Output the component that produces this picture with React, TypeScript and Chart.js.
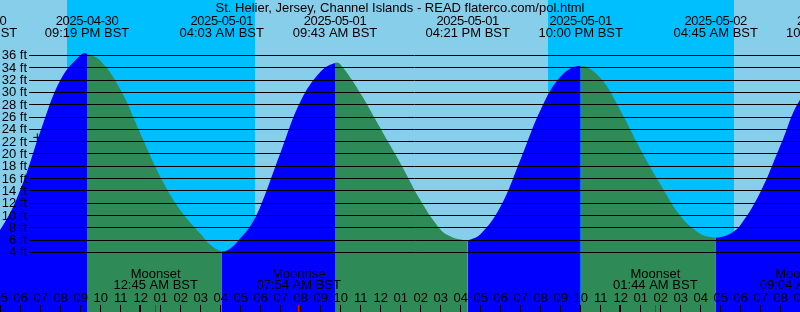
import { useEffect, useRef } from 'react';
import { Chart, registerables } from 'chart.js';

Chart.register(...registerables);

// ---- data (hours are counted from 2025-04-30 00:00 BST) ----
const TITLE = 'St. Helier, Jersey, Channel Islands - READ flaterco.com/pol.html';

const TIDE_HOURS = [
  15.717, 16, 17, 18, 19, 20, 21, 21.317,
  22, 23, 24, 25, 26, 27, 27.5, 28.05,
  28.5, 29, 29.5, 30, 31, 32, 33, 33.717,
  34, 35, 36, 37, 38, 39, 39.5, 40, 40.35,
  41, 42, 43, 44, 45, 46,
  47, 48, 49, 50, 51, 52, 52.5, 52.75,
  53, 53.5, 54, 55, 56, 57, 58.383,
];
const TIDE_FEET = [
  3.8, 4.4, 7.8, 14.3, 23.8, 32.1, 36.1, 36.3,
  35.1, 30.4, 23.2, 16.2, 10.8, 7.0, 5.2, 4.2,
  4.7, 6.4, 8.4, 11.6, 20.3, 28.6, 33.4, 34.8,
  34.5, 29.8, 24.1, 18.4, 12.4, 7.7, 6.6, 6.1, 6.0,
  7.0, 11.5, 19.2, 27.2, 32.6, 34.3,
  32.3, 27.0, 20.7, 15.0, 9.9, 7.0, 6.5, 6.4,
  6.5, 7.1, 8.5, 13.9, 21.5, 29.0, 33.8,
];

const TIDE_EVENT_HOURS = [15.717, 21.317, 28.05, 33.717, 40.35, 46.0, 52.75, 58.383];
const TIDE_EVENT_DATES = ['2025-04-30', '2025-04-30', '2025-05-01', '2025-05-01', '2025-05-01', '2025-05-01', '2025-05-02', '2025-05-02'];
const TIDE_EVENT_TIMES = ['03:43 PM BST', '09:19 PM BST', '04:03 AM BST', '09:43 AM BST', '04:21 PM BST', '10:00 PM BST', '04:45 AM BST', '10:23 AM BST'];

const MOON_EVENT_HOURS = [24.75, 31.9, 49.733, 57.067];
const MOON_EVENT_NAMES = ['Moonset', 'Moonrise', 'Moonset', 'Moonrise'];
const MOON_EVENT_TIMES = ['12:45 AM BST', '07:54 AM BST', '01:44 AM BST', '09:04 AM BST'];

const SUNSET_HOURS = [20.317, 44.367];
const SUNRISE_HOURS = [29.717, 53.667];

const MIDNIGHT_HOURS = [24, 48];

const NOW_HOUR = 18.833;
const NOW_FEET = 22.7;

const Y_TICKS = [4, 6, 8, 10, 12, 14, 16, 18, 20, 22, 24, 26, 28, 30, 32, 34, 36];
const FIRST_HOUR_TICK = 17;
const LAST_HOUR_TICK = 57;

// ---- axis ranges / styles ----
const X_MIN = 16 + 58 / 60;
const X_MAX = X_MIN + 40;
const Y_MIN = -5.665;
const Y_MAX = 45.015;

const DAY_COLOR = '#87CEEB';
const NIGHT_COLOR = '#00BFFF';
const RISING_COLOR = '#0000FF';
const FALLING_COLOR = '#2E8B57';
const FONT = '13px "Liberation Sans", Arial, sans-serif';

const hourLabel = (h: number) => {
  const v = h % 12 === 0 ? 12 : h % 12;
  return v < 10 ? '0' + v : String(v);
};

const decorPlugin = {
  id: 'tideDecor',
  beforeDatasetsDraw(chart: any) {
    const { ctx, chartArea: a, scales } = chart;
    const x = scales.x;
    ctx.save();
    ctx.fillStyle = DAY_COLOR;
    ctx.fillRect(a.left, a.top, a.right - a.left, a.bottom - a.top);
    ctx.fillStyle = NIGHT_COLOR;
    for (let i = 0; i < SUNSET_HOURS.length; i++) {
      const x0 = Math.round(x.getPixelForValue(SUNSET_HOURS[i]));
      const x1 = Math.round(x.getPixelForValue(SUNRISE_HOURS[i]));
      ctx.fillRect(x0, a.top, x1 - x0, a.bottom - a.top);
    }
    ctx.restore();
  },
  afterDatasetsDraw(chart: any) {
    const { ctx, chartArea: a, scales } = chart;
    const x = scales.x;
    const y = scales.y;
    ctx.save();
    // horizontal level lines
    ctx.strokeStyle = '#000';
    ctx.lineWidth = 1;
    ctx.beginPath();
    for (const v of Y_TICKS) {
      const py = Math.round(y.getPixelForValue(v) - 0.5) + 0.5;
      ctx.moveTo(29, py);
      ctx.lineTo(a.right, py);
    }
    ctx.stroke();

    ctx.font = FONT;
    ctx.fillStyle = '#000';
    ctx.textBaseline = 'alphabetic';
    ctx.textAlign = 'right';
    for (const v of Y_TICKS) {
      const py = y.getPixelForValue(v);
      ctx.fillText(v + ' ft', 27, Math.round(py + 4));
    }

    ctx.textAlign = 'center';
    ctx.fillText(TITLE, (a.left + a.right) / 2, 12);

    for (let i = 0; i < TIDE_EVENT_HOURS.length; i++) {
      const px = x.getPixelForValue(TIDE_EVENT_HOURS[i]);
      (ctx as any).letterSpacing = '-0.4px';
      ctx.fillText(TIDE_EVENT_DATES[i], px, 25);
      (ctx as any).letterSpacing = '0px';
      ctx.fillText(TIDE_EVENT_TIMES[i], px, 37);
    }

    for (let i = 0; i < MOON_EVENT_HOURS.length; i++) {
      const px = x.getPixelForValue(MOON_EVENT_HOURS[i]);
      ctx.fillText(MOON_EVENT_NAMES[i], px, 278);
      ctx.fillText(MOON_EVENT_TIMES[i], px, 289);
    }

    for (let h = FIRST_HOUR_TICK; h <= LAST_HOUR_TICK; h++) {
      const px = x.getPixelForValue(h);
      ctx.fillText(hourLabel(h), px, 302);
      ctx.fillRect(Math.floor(px), 305, 1, 7);
    }
    for (const h of MIDNIGHT_HOURS) {
      const px = x.getPixelForValue(h);
      ctx.fillRect(Math.floor(px) - 1, 305, 2, 7);
    }
    ctx.fillStyle = '#FF0000';
    for (const h of MOON_EVENT_HOURS) {
      const px = x.getPixelForValue(h);
      ctx.fillRect(Math.floor(px), 305, 1, 7);
    }
    ctx.restore();
  },
};

export default function App() {
  const ref = useRef<HTMLCanvasElement | null>(null);
  useEffect(() => {
    document.body.style.margin = '0';
    const canvas = ref.current;
    if (!canvas) return;
    const chart = new Chart(canvas, {
      type: 'line',
      data: {
        datasets: [
          {
            label: 'tide',
            data: TIDE_HOURS.map((h, i) => ({ x: h, y: TIDE_FEET[i] })),
            fill: 'start',
            backgroundColor: RISING_COLOR,
            borderWidth: 0,
            borderColor: 'rgba(0,0,0,0)',
            pointRadius: 0,
            pointHoverRadius: 0,
            tension: 0.4,
            capBezierPoints: false,
            segment: {
              backgroundColor: (c: any) => (c.p1.parsed.y > c.p0.parsed.y ? RISING_COLOR : FALLING_COLOR),
            },
          } as any,
          {
            type: 'scatter',
            label: 'now',
            data: [{ x: NOW_HOUR, y: NOW_FEET }],
            pointStyle: 'cross',
            pointRadius: 4,
            borderColor: '#000',
            borderWidth: 1,
            showLine: false,
          } as any,
        ],
      },
      options: {
        animation: false,
        responsive: false,
        events: [],
        layout: { padding: 0, autoPadding: false },
        plugins: { legend: { display: false }, tooltip: { enabled: false }, title: { display: false } },
        scales: {
          x: { type: 'linear', min: X_MIN, max: X_MAX, display: false },
          y: { type: 'linear', min: Y_MIN, max: Y_MAX, display: false },
        },
      },
      plugins: [decorPlugin],
    });
    return () => chart.destroy();
  }, []);
  return (
    <div style={{ position: 'absolute', left: 0, top: 0, width: 800, height: 312 }}>
      <canvas ref={ref} width={800} height={312} style={{ display: 'block' }} />
    </div>
  );
}
